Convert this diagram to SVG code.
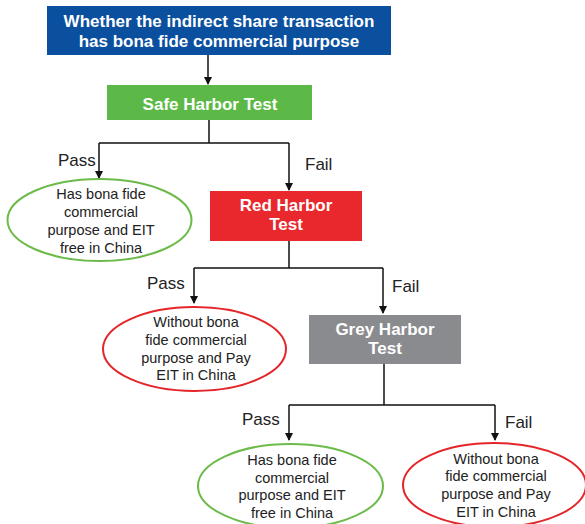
<svg xmlns="http://www.w3.org/2000/svg" width="585" height="524" viewBox="0 0 585 524">
<defs>
<marker id="ah" markerUnits="userSpaceOnUse" markerWidth="8" markerHeight="9" refX="7" refY="4" orient="auto">
<path d="M0,0 L8,4 L0,8 Z" fill="#111"/>
</marker>
<style>
.box text{font-family:"Liberation Sans",Arial,sans-serif;font-weight:bold;font-size:17px;fill:#fff;text-anchor:middle}
.oval text{font-family:"Liberation Sans",Arial,sans-serif;font-size:14.5px;fill:#222;text-anchor:middle}
.lbl{font-family:"Liberation Sans",Arial,sans-serif;font-size:17px;fill:#222}
.oval ellipse{fill:#fff;stroke-width:2}
.g ellipse{stroke:#6cbb4a}
.r ellipse{stroke:#e4262a}
#connectors path{fill:none;stroke:#111;stroke-width:1.5}
</style>
</defs>
<rect width="585" height="524" fill="#fff"/>
<g id="connectors">
<path d="M208,55 V84" marker-end="url(#ah)"/>
<path d="M209,120 V143 M99,143 H289"/>
<path d="M99,143 V178" marker-end="url(#ah)"/>
<path d="M289,143 V190" marker-end="url(#ah)"/>
<path d="M289,241 V268 M194,268 H383"/>
<path d="M194,268 V303" marker-end="url(#ah)"/>
<path d="M383,268 V313" marker-end="url(#ah)"/>
<path d="M384,364 V405 M289,405 H495"/>
<path d="M289,405 V440" marker-end="url(#ah)"/>
<path d="M495,405 V440" marker-end="url(#ah)"/>
</g>
<text class="lbl" x="58" y="166">Pass</text>
<text class="lbl" x="305" y="170">Fail</text>
<text class="lbl" x="147" y="289">Pass</text>
<text class="lbl" x="392" y="292">Fail</text>
<text class="lbl" x="242" y="425">Pass</text>
<text class="lbl" x="505" y="428">Fail</text>
<g id="start" class="box">
<rect x="47" y="6" width="344" height="49" fill="#0b4f9f"/>
<text x="219" y="27">Whether the indirect share transaction</text>
<text x="219" y="47">has bona fide commercial purpose</text>
</g>
<g id="safe" class="box">
<rect x="107" y="85" width="205" height="35" fill="#5db947"/>
<text x="210" y="110">Safe Harbor Test</text>
</g>
<g id="red" class="box">
<rect x="210" y="191" width="152" height="50" fill="#e8282c"/>
<text x="286" y="211">Red Harbor</text>
<text x="286" y="230">Test</text>
</g>
<g id="grey" class="box">
<rect x="309" y="315" width="152" height="49" fill="#8a8b8e"/>
<text x="385" y="335">Grey Harbor</text>
<text x="385" y="354">Test</text>
</g>
<g id="pass1" class="oval g">
<ellipse cx="99.5" cy="220" rx="92" ry="41"/>
<text x="101" y="199">Has bona fide</text>
<text x="101" y="217">commercial</text>
<text x="101" y="234.5">purpose and EIT</text>
<text x="101" y="252.5">free in China</text>
</g>
<g id="pass2" class="oval r">
<ellipse cx="194.5" cy="349" rx="91.5" ry="42"/>
<text x="196" y="327">Without bona</text>
<text x="196" y="345">fide commercial</text>
<text x="196" y="362.5">purpose and Pay</text>
<text x="196" y="380">EIT in China</text>
</g>
<g id="pass3" class="oval g">
<ellipse cx="290.5" cy="486" rx="92.5" ry="42"/>
<text x="292" y="465">Has bona fide</text>
<text x="292" y="482.7">commercial</text>
<text x="292" y="500">purpose and EIT</text>
<text x="292" y="517.7">free in China</text>
</g>
<g id="fail3" class="oval r">
<ellipse cx="494.5" cy="485" rx="91.5" ry="42"/>
<text x="496" y="463.5">Without bona</text>
<text x="496" y="481">fide commercial</text>
<text x="496" y="498.5">purpose and Pay</text>
<text x="496" y="516.7">EIT in China</text>
</g>
</svg>
